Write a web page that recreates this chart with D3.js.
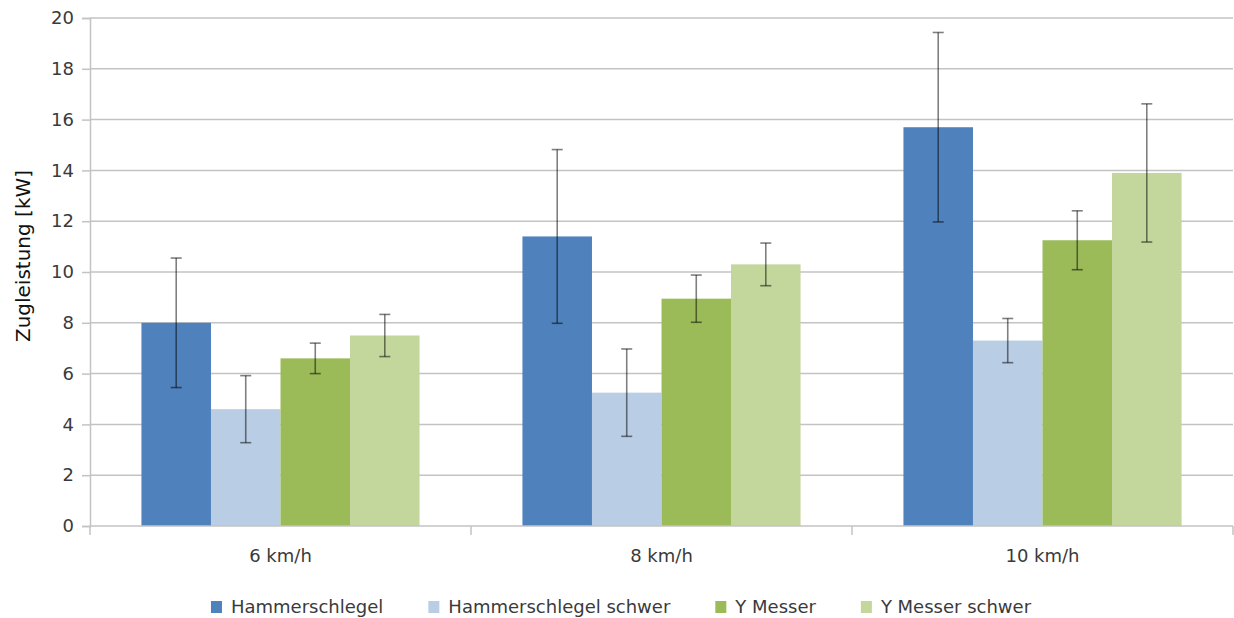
<!DOCTYPE html>
<html>
<head>
<meta charset="utf-8">
<script src="https://cdn.jsdelivr.net/npm/d3@7"></script>
<style>
  html, body { margin: 0; padding: 0; background: #fff; }
  svg { display: block; font-family: "DejaVu Sans", sans-serif; }
</style>
</head>
<body>
<svg id="chart" width="1234" height="618"></svg>
<script>
const categories = ["6 km/h", "8 km/h", "10 km/h"];
const seriesNames = ["Hammerschlegel", "Hammerschlegel schwer", "Y Messer", "Y Messer schwer"];
const seriesColors = ["#4F81BD", "#B9CDE5", "#9BBB59", "#C3D69B"];
const hammerschlegel = [8.0, 11.4, 15.7];
const hammerschlegelSchwer = [4.6, 5.25, 7.3];
const yMesser = [6.6, 8.95, 11.25];
const yMesserSchwer = [7.5, 10.3, 13.9];
const errHammerschlegel = [2.55, 3.42, 3.73];
const errHammerschlegelSchwer = [1.32, 1.72, 0.87];
const errYMesser = [0.6, 0.93, 1.16];
const errYMesserSchwer = [0.83, 0.84, 2.72];
const yTicks = [0, 2, 4, 6, 8, 10, 12, 14, 16, 18, 20];
const yTitle = "Zugleistung [kW]";

const values = [hammerschlegel, hammerschlegelSchwer, yMesser, yMesserSchwer];
const errors = [errHammerschlegel, errHammerschlegelSchwer, errYMesser, errYMesserSchwer];

const data = [];
categories.forEach((c, ci) => {
  seriesNames.forEach((s, si) => {
    data.push({ cat: c, series: s, si, value: values[si][ci], err: errors[si][ci] });
  });
});

const svg = d3.select("#chart");
const margin = { left: 90, right: 1, top: 18, bottom: 92 };
const W = 1234, H = 618;
const plotW = W - margin.left - margin.right;
const plotH = H - margin.top - margin.bottom;
const g = svg.append("g").attr("transform", `translate(${margin.left},${margin.top})`);

const x0 = d3.scaleBand().domain(categories).range([0, plotW]).padding(0);
const x1 = d3.scaleBand().domain(seriesNames).range([0, x0.bandwidth()]).paddingInner(0).paddingOuter(0.74);
const y = d3.scaleLinear().domain([0, 20]).range([plotH, 0]);
const color = d3.scaleOrdinal().domain(seriesNames).range(seriesColors);

const gridColor = "#C3C3C3";
const textColor = "#3a3a3a";

// gridlines
g.append("g").selectAll("line").data(yTicks.filter(t => t > 0)).join("line")
  .attr("x1", 0).attr("x2", plotW)
  .attr("y1", d => y(d)).attr("y2", d => y(d))
  .attr("stroke", gridColor).attr("stroke-width", 1.5);

// y axis
const yAxis = g.append("g").call(d3.axisLeft(y).tickValues(yTicks).tickSize(8).tickPadding(8).tickFormat(d3.format("d")));
yAxis.select(".domain").attr("stroke", gridColor).attr("stroke-width", 1.5);
yAxis.selectAll(".tick line").attr("stroke", gridColor).attr("stroke-width", 1.5);
yAxis.selectAll(".tick text").attr("fill", textColor).style("font-size", "18px").style("font-family", "DejaVu Sans, sans-serif");

// bars
const groups = g.append("g").selectAll("g").data(categories).join("g")
  .attr("transform", d => `translate(${x0(d)},0)`);
groups.selectAll("rect").data(c => data.filter(d => d.cat === c)).join("rect")
  .attr("x", d => x1(d.series))
  .attr("width", x1.bandwidth())
  .attr("y", d => y(d.value))
  .attr("height", d => y(0) - y(d.value))
  .attr("fill", d => color(d.series));

// error bars
const eb = groups.selectAll("g.err").data(c => data.filter(d => d.cat === c)).join("g").attr("class", "err")
  .attr("stroke", "#000").attr("stroke-opacity", 0.5).attr("stroke-width", 1.6);
eb.append("line")
  .attr("x1", d => x1(d.series) + x1.bandwidth() / 2).attr("x2", d => x1(d.series) + x1.bandwidth() / 2)
  .attr("y1", d => y(d.value + d.err)).attr("y2", d => y(d.value - d.err));
eb.append("line")
  .attr("x1", d => x1(d.series) + x1.bandwidth() / 2 - 5.5).attr("x2", d => x1(d.series) + x1.bandwidth() / 2 + 5.5)
  .attr("y1", d => y(d.value + d.err)).attr("y2", d => y(d.value + d.err));
eb.append("line")
  .attr("x1", d => x1(d.series) + x1.bandwidth() / 2 - 5.5).attr("x2", d => x1(d.series) + x1.bandwidth() / 2 + 5.5)
  .attr("y1", d => y(d.value - d.err)).attr("y2", d => y(d.value - d.err));

// x axis
const xAxisG = g.append("g").attr("transform", `translate(0,${plotH})`);
xAxisG.append("line").attr("x1", 0).attr("x2", plotW).attr("y1", 0).attr("y2", 0)
  .attr("stroke", gridColor).attr("stroke-width", 1.5);
xAxisG.selectAll("line.tk").data(categories.concat(["end"])).join("line").attr("class", "tk")
  .attr("x1", (d, i) => i < categories.length ? x0(d) : plotW)
  .attr("x2", (d, i) => i < categories.length ? x0(d) : plotW)
  .attr("y1", 0).attr("y2", 9)
  .attr("stroke", gridColor).attr("stroke-width", 1.5);
xAxisG.selectAll("text").data(categories).join("text")
  .attr("x", d => x0(d) + x0.bandwidth() / 2)
  .attr("y", 36)
  .attr("text-anchor", "middle")
  .attr("fill", textColor)
  .style("font-size", "18px")
  .text(d => d);

// y title
svg.append("text")
  .attr("transform", `translate(30,${margin.top + plotH / 2 - 16}) rotate(-90)`)
  .attr("text-anchor", "middle")
  .attr("fill", "#111")
  .style("font-size", "20px")
  .text(yTitle);

// legend
const legend = svg.append("g").attr("transform", "translate(0,613)");
const items = legend.selectAll("g").data(seriesNames).join("g");
items.append("rect").attr("x", 0).attr("y", -12).attr("width", 11).attr("height", 12)
  .attr("fill", d => color(d));
items.append("text").attr("x", 20).attr("y", 0).attr("fill", textColor)
  .style("font-size", "18px").text(d => d);
let xpos = 0;
const offs = [];
const gap = 45;
items.each(function () {
  offs.push(xpos);
  const w = d3.select(this).select("text").node().getComputedTextLength();
  xpos += 20 + w + gap;
});
const totalW = xpos - gap;
const startX = 621 - totalW / 2;
items.attr("transform", (d, i) => `translate(${startX + offs[i]},0)`);
</script>
</body>
</html>
